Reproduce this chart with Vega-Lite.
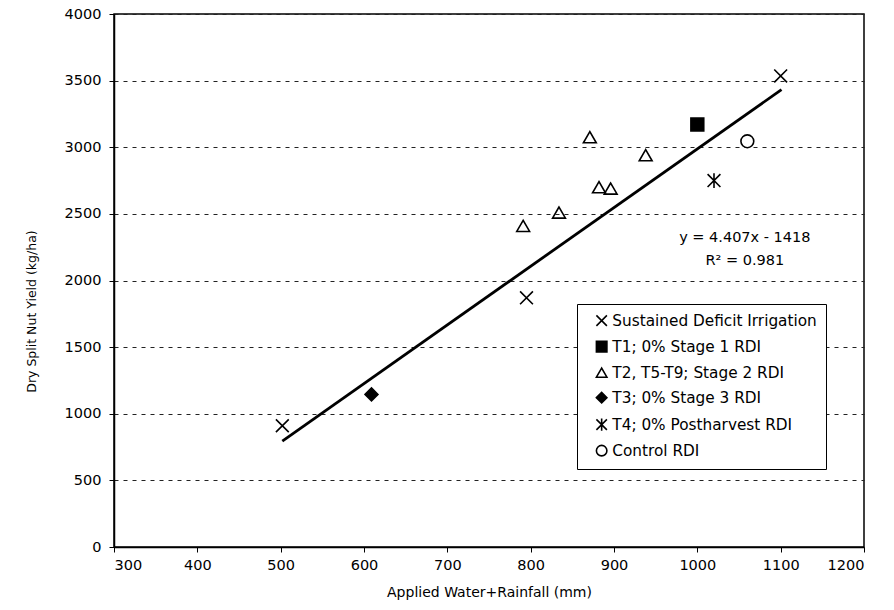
{
  "$schema": "https://vega.github.io/schema/vega-lite/v6.json",
  "width": 750,
  "height": 533,
  "autosize": "none",
  "padding": {"left": 114, "top": 14, "right": 30, "bottom": 63},
  "background": "white",
  "config": {
    "font": "DejaVu Sans",
    "view": {"stroke": "black", "strokeWidth": 1.5},
    "axis": {
      "domainColor": "black",
      "domainWidth": 1.5,
      "tickColor": "black",
      "tickSize": 5,
      "labelColor": "black",
      "titleColor": "black",
      "labelFontSize": 14.5,
      "titleFontSize": 14,
      "titleFontWeight": "normal",
      "labelFont": "DejaVu Sans",
      "titleFont": "DejaVu Sans"
    }
  },
  "datasets": {
    "points": [
      {"water": 502, "yield": 910, "series": "Sustained Deficit Irrigation"},
      {"water": 795, "yield": 1870, "series": "Sustained Deficit Irrigation"},
      {"water": 1100, "yield": 3535, "series": "Sustained Deficit Irrigation"},
      {"water": 1000, "yield": 3170, "series": "T1; 0% Stage 1 RDI"},
      {"water": 791, "yield": 2410, "series": "T2, T5-T9; Stage 2 RDI"},
      {"water": 834, "yield": 2510, "series": "T2, T5-T9; Stage 2 RDI"},
      {"water": 871, "yield": 3075, "series": "T2, T5-T9; Stage 2 RDI"},
      {"water": 882, "yield": 2700, "series": "T2, T5-T9; Stage 2 RDI"},
      {"water": 896, "yield": 2690, "series": "T2, T5-T9; Stage 2 RDI"},
      {"water": 938, "yield": 2940, "series": "T2, T5-T9; Stage 2 RDI"},
      {"water": 609, "yield": 1145, "series": "T3; 0% Stage 3 RDI"},
      {"water": 1020, "yield": 2750, "series": "T4; 0% Postharvest RDI"},
      {"water": 1060, "yield": 3045, "series": "Control RDI"}
    ],
    "fit": [
      {"water": 502, "yield": 795},
      {"water": 1101, "yield": 3432}
    ],
    "labels": [
      {"water": 1057, "yield": 2320, "text": "y = 4.407x - 1418"},
      {"water": 1057, "yield": 2150, "text": "R² = 0.981"}
    ]
  },
  "layer": [
    {
      "data": {"name": "fit"},
      "mark": {"type": "line", "color": "black", "strokeWidth": 2.8},
      "encoding": {
        "x": {
          "field": "water", "type": "quantitative",
          "scale": {"domain": [300, 1200], "nice": false},
          "axis": {
            "title": "Applied Water+Rainfall (mm)",
            "values": [300, 400, 500, 600, 700, 800, 900, 1000, 1100, 1200],
            "format": "d",
            "grid": false,
            "labelPadding": 6,
            "titlePadding": 14
          }
        },
        "y": {
          "field": "yield", "type": "quantitative",
          "scale": {"domain": [0, 4000], "nice": false},
          "axis": {
            "title": "Dry Split Nut Yield (kg/ha)",
            "values": [0, 500, 1000, 1500, 2000, 2500, 3000, 3500, 4000],
            "format": "d",
            "grid": true,
            "gridColor": "#222",
            "gridDash": [4, 5],
            "gridWidth": 1.2,
            "labelPadding": 8,
            "titlePadding": 26,
            "titleFontSize": 12.5,
            "titleY": 297
          }
        }
      }
    },
    {
      "data": {"name": "points"},
      "mark": {"type": "point", "filled": false, "stroke": "black", "strokeWidth": 1.6, "opacity": 1, "size": 165},
      "encoding": {
        "x": {"field": "water", "type": "quantitative"},
        "y": {"field": "yield", "type": "quantitative"},
        "shape": {
          "field": "series", "type": "nominal",
          "scale": {
            "domain": ["Sustained Deficit Irrigation", "T1; 0% Stage 1 RDI", "T2, T5-T9; Stage 2 RDI", "T3; 0% Stage 3 RDI", "T4; 0% Postharvest RDI", "Control RDI"],
            "range": ["M-1,-1L1,1M-1,1L1,-1", "square", "triangle-up", "diamond", "M-1,-1L1,1M-1,1L1,-1M0,-1.15L0,1.15", "circle"]
          },
          "legend": {
            "title": null,
            "orient": "none",
            "legendX": 463,
            "legendY": 290,
            "strokeColor": "black",
            "fillColor": "white",
            "padding": 9,
            "rowPadding": 8,
            "symbolSize": 110,
            "symbolOffset": 8,
            "symbolStrokeWidth": 1.6,
            "labelFontSize": 15.3,
            "labelFont": "DejaVu Sans",
            "labelColor": "black",
            "labelLimit": 300,
            "labelOffset": 3,
            "encode": {"symbols": {"update": {"stroke": {"value": "black"}, "strokeWidth": {"value": 1.6}}}}
          }
        },
        "fill": {
          "field": "series", "type": "nominal",
          "scale": {
            "domain": ["Sustained Deficit Irrigation", "T1; 0% Stage 1 RDI", "T2, T5-T9; Stage 2 RDI", "T3; 0% Stage 3 RDI", "T4; 0% Postharvest RDI", "Control RDI"],
            "range": ["transparent", "black", "transparent", "black", "transparent", "transparent"]
          },
          "legend": {
            "title": null,
            "orient": "none",
            "legendX": 463,
            "legendY": 290,
            "strokeColor": "black",
            "fillColor": "white",
            "padding": 9,
            "rowPadding": 8,
            "symbolSize": 110,
            "symbolOffset": 8,
            "symbolStrokeWidth": 1.6,
            "labelFontSize": 15.3,
            "labelFont": "DejaVu Sans",
            "labelColor": "black",
            "labelLimit": 300,
            "labelOffset": 3,
            "encode": {"symbols": {"update": {"stroke": {"value": "black"}, "strokeWidth": {"value": 1.6}}}}
          }
        }
      }
    },
    {
      "data": {"name": "labels"},
      "mark": {"type": "text", "fontSize": 14.5, "color": "black", "align": "center", "baseline": "middle", "font": "DejaVu Sans"},
      "encoding": {
        "x": {"field": "water", "type": "quantitative"},
        "y": {"field": "yield", "type": "quantitative"},
        "text": {"field": "text", "type": "nominal"}
      }
    }
  ]
}
